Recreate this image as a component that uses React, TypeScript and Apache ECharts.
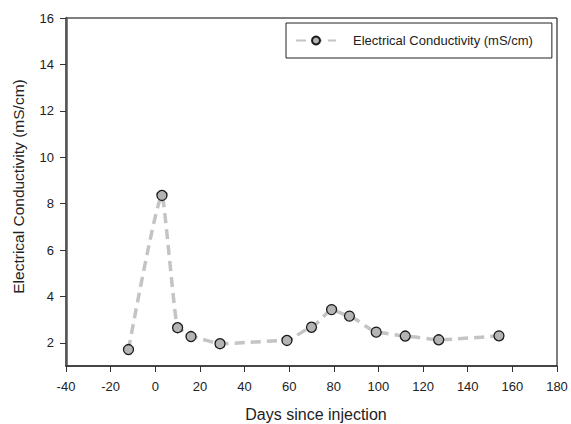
import React, { useEffect, useRef } from "react";
import * as echarts from "echarts";

const seriesName = "Electrical Conductivity (mS/cm)";
const days = [-12, 3, 10, 16, 29, 59, 70, 79, 87, 99, 112, 127, 154];
const conductivity = [1.71, 8.35, 2.65, 2.27, 1.96, 2.1, 2.67, 3.43, 3.15, 2.46, 2.29, 2.13, 2.3];
const yTicks = [2, 4, 6, 8, 10, 12, 14, 16];
const xTitle = "Days since injection";
const yTitle = "Electrical Conductivity (mS/cm)";

export default function App() {
  const ref = useRef<HTMLDivElement>(null);
  useEffect(() => {
    if (!ref.current) return;
    const chart = echarts.init(ref.current, undefined, { renderer: "svg" });
    const font = "Liberation Sans, Arial, sans-serif";
    chart.setOption({
      animation: false,
      backgroundColor: "#fff",
      textStyle: { fontFamily: font },
      grid: {
        left: 66,
        top: 18,
        right: 14,
        bottom: 58,
        show: true,
        borderColor: "#000",
        borderWidth: 1,
        backgroundColor: "transparent",
      },
      legend: {
        left: 286,
        top: 23,
        padding: [11, 19, 11, 9],
        borderColor: "#222",
        borderWidth: 1,
        itemWidth: 40,
        itemHeight: 10,
        textStyle: { fontFamily: font, fontSize: 13, color: "#222", padding: [0, 0, 0, 12] },
        data: [seriesName],
      },
      graphic: [
        {
          type: "text",
          x: 316,
          y: 414,
          style: {
            text: xTitle,
            fontFamily: font,
            fontSize: 16,
            fill: "#222",
            align: "center",
            verticalAlign: "middle",
          },
        },
        {
          type: "text",
          x: 18.5,
          y: 186.5,
          rotation: Math.PI / 2,
          style: {
            text: yTitle,
            fontFamily: font,
            fontSize: 15.5,
            fill: "#222",
            align: "center",
            verticalAlign: "middle",
          },
        },
      ],
      xAxis: {
        type: "value",
        min: -40,
        max: 180,
        interval: 20,
        splitLine: { show: false },
        axisLine: { onZero: false, lineStyle: { color: "#333", width: 1.5 } },
        axisTick: { show: true, inside: false, length: 6, lineStyle: { color: "#333" } },
        axisLabel: { fontSize: 13, color: "#222", margin: 14, fontFamily: font },
      },
      yAxis: {
        type: "value",
        min: 1,
        max: 16,
        interval: 1,
        splitLine: { show: false },
        axisLine: { onZero: false, lineStyle: { color: "#555", width: 2.5 } },
        axisTick: { show: true, inside: false, length: 6, customValues: yTicks, lineStyle: { color: "#333" } },
        axisLabel: { fontSize: 13, color: "#222", margin: 12, customValues: yTicks, fontFamily: font },
      },
      series: [
        {
          name: seriesName,
          type: "line",
          data: days.map((d, i) => [d, conductivity[i]]),
          smooth: 0.15,
          smoothMonotone: "x",
          symbol: "circle",
          symbolSize: 10,
          lineStyle: { color: "#c4c4c4", width: 3.5, type: [10, 6] },
          itemStyle: { color: "#b4b4b4", borderColor: "#1a1a1a", borderWidth: 1.3 },
        },
      ],
    });
    return () => chart.dispose();
  }, []);
  return (
    <div
      ref={ref}
      style={{ position: "fixed", left: 0, top: 0, width: 571, height: 424 }}
    />
  );
}
